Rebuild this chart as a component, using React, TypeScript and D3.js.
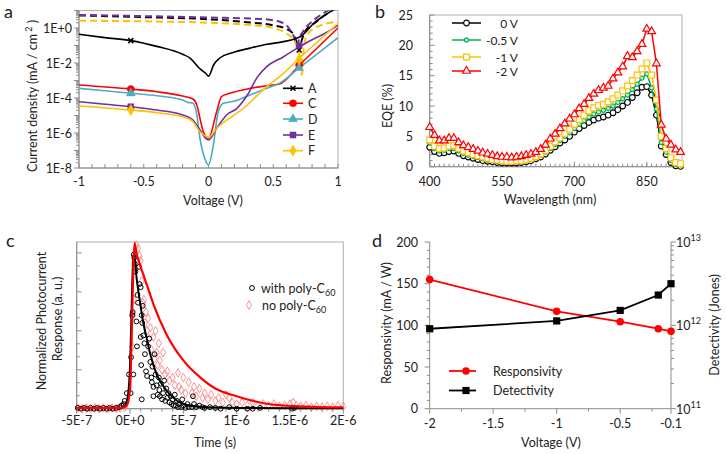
import React from "react";
import * as d3 from "d3";

const FONT = "Lato, 'Open Sans', sans-serif";
const AXIS = "#8c8c8c";
const FRAME = "#b0b0b0";
const FS = 12;

// ---------- panel a : J-V curves, values are log10(J in mA/cm2)
const aNames = ["A", "C", "D", "E", "F"];
const aColors = ["#000000", "#ff0000", "#4bacc6", "#7030a0", "#ffc000"];
const aV_A = [-1, -0.8, -0.6, -0.4, -0.2, -0.14, -0.07, -0.02, 0, 0.04, 0.09, 0.19, 0.32, 0.45, 0.58, 0.68, 0.72, 0.76, 0.8, 0.9, 1.0];
const aL_A = [-0.36, -0.55, -0.72, -1.05, -1.5, -1.73, -2.3, -2.6, -2.75, -2.1, -1.7, -1.4, -1.15, -0.93, -0.78, -0.59, -0.45, -0.15, 0.17, 0.74, 1.2];
const aV_C = [-1, -0.6, -0.4, -0.2, -0.12, -0.09, -0.066, -0.04, 0, 0.063, 0.1, 0.165, 0.32, 0.47, 0.55, 0.7, 0.835, 1.0];
const aL_C = [-3.26, -3.49, -3.64, -3.89, -4.06, -4.4, -5.15, -5.93, -6.3, -4.78, -3.92, -3.73, -3.45, -3.28, -3.2, -2.13, -1.17, 0.0];
const aV_D = [-1, -0.6, -0.4, -0.2, -0.16, -0.12, -0.09, -0.066, -0.03, 0, 0.037, 0.075, 0.115, 0.19, 0.32, 0.45, 0.55, 0.7, 0.85, 1.0];
const aL_D = [-3.45, -3.73, -3.87, -4.11, -4.25, -4.3, -4.97, -6.3, -7.43, -7.83, -6.7, -4.78, -4.3, -4.2, -3.83, -3.45, -3.15, -2.28, -1.42, -0.55];
const aV_E = [-1, -0.6, -0.4, -0.2, -0.12, -0.066, -0.015, 0, 0.063, 0.14, 0.22, 0.3, 0.38, 0.45, 0.58, 0.67, 0.75, 0.9, 1.0];
const aL_E = [-4.21, -4.5, -4.69, -4.97, -5.26, -5.83, -6.35, -6.4, -5.73, -4.97, -4.59, -3.83, -2.78, -2.21, -1.64, -1.22, -0.87, -0.3, 0.15];
const aV_F = [-1, -0.6, -0.4, -0.2, -0.12, -0.066, -0.015, 0, 0.063, 0.14, 0.22, 0.3, 0.38, 0.45, 0.58, 0.7, 0.8, 0.9, 1.0];
const aL_F = [-4.44, -4.69, -4.84, -5.07, -5.35, -5.93, -6.2, -6.25, -5.73, -5.26, -4.87, -4.4, -3.83, -3.35, -2.59, -1.73, -1.07, -0.4, 0.27];
// illuminated (dashed) curves
const aVd_A = [-1, -0.5, 0, 0.3, 0.5, 0.6, 0.65, 0.68, 0.7, 0.72, 0.75, 0.8, 0.9, 1.0];
const aLd_A = [0.72, 0.62, 0.5, 0.33, 0.15, -0.05, -0.3, -0.8, -1.26, -0.7, -0.15, 0.17, 0.74, 1.2];
const aVd_E = [-1, -0.5, 0, 0.4, 0.55, 0.62, 0.66, 0.685, 0.7, 0.73, 0.83, 0.91, 1.0];
const aLd_E = [0.75, 0.68, 0.6, 0.52, 0.36, 0.0, -0.5, -1.0, -0.6, -0.2, 0.55, 0.95, 1.3];
const aVd_F = [-1, -0.5, 0, 0.3, 0.5, 0.6, 0.66, 0.69, 0.71, 0.72, 0.735, 0.76, 0.85, 1.0];
const aLd_F = [0.42, 0.38, 0.3, 0.18, 0.0, -0.3, -0.7, -1.2, -1.9, -2.69, -1.2, -0.4, 0.1, 0.36];
const aMarkV = [-0.6, 0.7];
const aMarkL = [[-0.72, -1.26], [-3.49, -2.13], [-3.73, -2.28], [-4.5, -1.0], [-4.69, -1.8]];
const aXTicks = [-1, -0.5, 0, 0.5, 1];
const aXLabels = ["-1", "-0.5", "0", "0.5", "1"];
const aYTicks = [-8, -6, -4, -2, 0];
const aYLabels = ["1E-8", "1E-6", "1E-4", "1E-2", "1E+0"];

// ---------- panel b : EQE spectra
const bWave = [400, 410, 420, 430, 440, 450, 460, 470, 480, 490, 500, 510, 520, 530, 540, 550, 560, 570, 580, 590, 600, 610, 620, 630, 640, 650, 660, 670, 680, 690, 700, 710, 720, 730, 740, 750, 760, 770, 780, 790, 800, 810, 820, 830, 840, 850, 860, 870, 880, 890, 900, 910, 920];
const bEqe0 = [3.2, 2.5, 2.2, 2.3, 2.5, 2.6, 2.2, 1.8, 1.6, 1.4, 1.2, 1.0, 0.9, 0.8, 0.7, 0.6, 0.6, 0.6, 0.6, 0.7, 0.8, 1.0, 1.3, 1.6, 2.1, 2.7, 3.3, 3.9, 4.4, 5.0, 5.7, 6.3, 6.8, 7.3, 7.7, 8.0, 8.2, 8.5, 8.9, 9.4, 10.0, 10.6, 11.4, 12.2, 13.1, 13.2, 11.8, 8.5, 3.4, 2.0, 0.7, 0.15, 0.05];
const bEqe05 = [3.9, 3.0, 2.6, 2.7, 3.0, 3.0, 2.6, 2.2, 1.9, 1.7, 1.5, 1.3, 1.1, 1.0, 0.9, 0.8, 0.8, 0.8, 0.8, 0.9, 1.0, 1.2, 1.5, 1.9, 2.4, 3.0, 3.7, 4.3, 5.0, 5.6, 6.3, 7.0, 7.6, 8.2, 8.7, 9.0, 9.3, 9.6, 10.0, 10.6, 11.2, 11.8, 12.7, 13.6, 14.6, 15.3, 13.0, 9.5, 4.0, 2.4, 1.0, 0.4, 0.3];
const bEqe1 = [4.4, 3.4, 3.0, 3.1, 3.4, 3.5, 3.0, 2.6, 2.3, 2.0, 1.8, 1.6, 1.4, 1.2, 1.1, 1.0, 0.9, 0.9, 1.0, 1.0, 1.2, 1.4, 1.7, 2.1, 2.7, 3.4, 4.1, 4.8, 5.5, 6.2, 7.0, 7.8, 8.5, 9.2, 9.7, 10.1, 10.3, 10.7, 11.2, 11.8, 12.5, 13.3, 14.2, 15.1, 16.1, 17.1, 15.1, 11.0, 5.0, 3.0, 1.5, 0.7, 0.5];
const bEqe2 = [6.5, 5.2, 4.3, 4.3, 4.7, 4.7, 4.0, 3.5, 3.2, 2.9, 2.6, 2.3, 2.1, 1.9, 1.7, 1.6, 1.6, 1.5, 1.6, 1.7, 1.9, 2.1, 2.4, 2.9, 3.6, 4.6, 5.4, 6.3, 7.1, 7.9, 8.6, 9.6, 10.3, 11.3, 12.0, 12.6, 13.0, 13.3, 14.5, 15.5, 16.5, 18.2, 18.0, 19.0, 20.2, 22.7, 22.3, 17.0, 6.9, 4.6, 3.6, 2.8, 2.4];
const bNames = ["0 V", "-0.5 V", "-1 V", "-2 V"];
const bXTicks = [400, 550, 700, 850];
const bYTicks = [0, 5, 10, 15, 20, 25];

// ---------- panel c : transient photocurrent (time in units of 1e-7 s)
const cWithT = [-4.9, -4.6, -4.3, -4.0, -3.7, -3.4, -3.1, -2.8, -2.5, -2.2, -1.9, -1.6, -1.3, -1.0, -0.8, -0.6, -0.5, -0.3, -0.1, 0.06, 0.1, 0.2, 0.25, 0.31, 0.35, 0.4, 0.45, 0.5, 0.6, 0.65, 0.7, 0.75, 0.85, 0.9, 1.0, 1.0, 1.05, 1.09, 1.1, 1.15, 1.2, 1.25, 1.35, 1.4, 1.5, 1.6, 1.7, 1.8, 1.9, 2.0, 2.05, 2.1, 2.19, 2.2, 2.3, 2.4, 2.5, 2.6, 2.7, 2.75, 2.8, 2.9, 3.0, 3.1, 3.2, 3.3, 3.4, 3.5, 3.6, 3.7, 3.8, 3.9, 4.0, 4.1, 4.2, 4.3, 4.4, 4.5, 4.6, 4.8, 4.9, 5.0, 5.2, 5.4, 5.5, 5.8, 5.9, 6.0, 6.2, 6.5, 6.8, 7.0, 7.5, 8.0, 8.5, 9.3, 10.0, 11.0, 11.5, 12.2, 15.2, 15.4];
const cWithV = [0.005, 0.0, 0.005, 0.0, 0.005, 0.0, 0.005, 0.0, 0.005, 0.0, 0.005, 0.0, 0.005, 0.01, 0.02, 0.03, 0.05, 0.1, 0.22, 0.1, 0.33, 0.6, 0.62, 0.22, 0.99, 0.97, 0.93, 0.88, 0.56, 0.4, 0.73, 0.68, 0.91, 0.8, 0.78, 0.46, 0.28, 0.6, 0.06, 0.55, 0.66, 0.47, 0.42, 0.35, 0.24, 0.21, 0.4, 0.45, 0.3, 0.2, 0.17, 0.27, 0.08, 0.14, 0.35, 0.22, 0.15, 0.09, 0.2, 0.12, 0.08, 0.16, 0.06, 0.1, 0.18, 0.05, 0.13, 0.07, 0.1, 0.04, 0.08, 0.03, 0.06, 0.02, 0.09, 0.02, 0.05, 0.01, 0.03, 0.01, 0.06, 0.02, 0.005, 0.03, 0.01, 0.01, 0.08, 0.03, 0.01, 0.02, 0.01, 0.005, 0.01, 0.005, 0.0, 0.01, 0.0, 0.0, 0.0, 0.005, 0.0, 0.005];
const cNoT = [-4.9, -4.5, -4.1, -3.7, -3.3, -2.9, -2.5, -2.1, -1.7, -1.3, -0.9, -0.5, 0.2, 0.3, 0.35, 0.5, 0.6, 0.75, 0.9, 1.0, 1.1, 1.2, 1.3, 1.4, 1.5, 1.6, 1.7, 1.8, 1.9, 2.0, 2.2, 2.3, 2.4, 2.5, 2.6, 2.7, 2.8, 3.0, 3.1, 3.3, 3.5, 3.7, 4.0, 4.2, 4.5, 4.6, 4.8, 5.0, 5.2, 5.5, 5.8, 6.0, 6.2, 6.5, 6.8, 7.0, 7.3, 7.6, 8.0, 8.3, 8.7, 9.0, 9.3, 9.6, 10.0, 10.5, 11.0, 11.5, 12.0, 12.5, 13.0, 13.5, 14.0, 14.5, 15.0, 15.3, 15.6, 16.0, 16.5, 17.0, 17.5, 18.0, 18.5, 19.0, 19.5, 20.0];
const cNoV = [0.005, 0.0, 0.005, 0.0, 0.005, 0.0, 0.005, 0.0, 0.005, 0.0, 0.005, 0.01, 0.4, 0.6, 0.7, 0.9, 1.05, 1.03, 0.98, 0.95, 0.82, 0.68, 0.7, 0.55, 0.62, 0.5, 0.58, 0.45, 0.52, 0.38, 0.46, 0.32, 0.5, 0.36, 0.28, 0.42, 0.31, 0.25, 0.36, 0.22, 0.24, 0.18, 0.2, 0.15, 0.23, 0.14, 0.12, 0.2, 0.1, 0.17, 0.1, 0.14, 0.08, 0.13, 0.07, 0.1, 0.06, 0.09, 0.05, 0.07, 0.04, 0.09, 0.07, 0.04, 0.03, 0.04, 0.02, 0.04, 0.02, 0.03, 0.02, 0.03, 0.015, 0.02, 0.03, 0.04, 0.02, 0.015, 0.02, 0.01, 0.015, 0.01, 0.015, 0.01, 0.02, 0.015];
const cWithFitT = [-5, -1, -0.6, -0.4, -0.2, 0, 0.1, 0.2, 0.3, 0.38, 0.6, 0.9, 1.25, 1.6, 1.9, 2.5, 3.4, 4.7, 6.5, 10, 15, 20];
const cWithFitV = [0.005, 0.005, 0.01, 0.03, 0.08, 0.27, 0.5, 0.78, 0.96, 1.0, 0.85, 0.7, 0.55, 0.44, 0.35, 0.22, 0.12, 0.04, 0.012, 0.005, 0.003, 0.003];
const cNoFitT = [-5, -1, -0.6, -0.3, 0, 0.15, 0.3, 0.42, 0.6, 0.9, 1.25, 1.6, 2.2, 3.4, 5, 6.6, 8, 9.7, 12.8, 15.9, 20];
const cNoFitV = [0.005, 0.005, 0.008, 0.02, 0.12, 0.45, 0.88, 1.064, 1.0, 0.93, 0.86, 0.79, 0.67, 0.48, 0.31, 0.2, 0.13, 0.086, 0.032, 0.015, 0.008];
const cXTicks = [-5, 0, 5, 10, 15, 20];
const cXLabels = ["-5E-7", "0E+0", "5E-7", "1E-6", "1.5E-6", "2E-6"];

// ---------- panel d : responsivity and detectivity
const dVolt = [-2, -1, -0.5, -0.2, -0.1];
const dResp = [155, 116.8, 104.4, 96, 92.8];
const dDet = [9.1e11, 1.13e12, 1.51e12, 2.31e12, 3.16e12];
const dXTicks = [-2, -1.5, -1, -0.5, -0.1];
const dXMinor = [-1.75, -1.25, -0.75, -0.25];
const dYTicks = [0, 50, 100, 150, 200];
const dRTicks = [11, 12, 13];

const txt = { fontFamily: FONT, fill: "#222" } as const;

function PanelA() {
  const x = d3.scaleLinear().domain([-1, 1]).range([79, 338]);
  const y = d3.scaleLinear().domain([-8, 1]).range([168, 10.5]);
  const line = d3.line<number[]>().x(d => x(d[0])).y(d => y(d[1])).curve(d3.curveMonotoneX);
  const solids = [[aV_A, aL_A], [aV_C, aL_C], [aV_D, aL_D], [aV_E, aL_E], [aV_F, aL_F]];
  const dashed: [number[], number[], string][] = [[aVd_A, aLd_A, aColors[0]], [aVd_E, aLd_E, aColors[3]], [aVd_F, aLd_F, aColors[4]]];
  const symTypes = [d3.symbolTimes || d3.symbolCross, d3.symbolCircle, d3.symbolTriangle, d3.symbolSquare, d3.symbolDiamond];
  const symSizes = [18, 40, 36, 36, 36];
  const minorY: number[] = [];
  for (let e = -8; e < 1; e++) for (let k = 2; k < 10; k++) minorY.push(e + Math.log10(k));
  const minorX = d3.range(-1, 1.001, 0.1);
  const [x0, x1] = x.range();
  const [yb, yt] = y.range();
  const sym = (i: number) => d3.symbol().type(symTypes[i]).size(symSizes[i])()!;
  return (
    <g>
      <defs>
        <clipPath id="clipA"><rect x={x0} y={yt} width={x1 - x0} height={yb - yt} /></clipPath>
      </defs>
      <rect x={x0} y={yt} width={x1 - x0} height={yb - yt} fill="none" stroke={FRAME} />
      {minorY.map((v, i) => <line key={"my" + i} x1={x0 - 3} x2={x0} y1={y(v)} y2={y(v)} stroke={AXIS} />)}
      {d3.range(-8, 2).map(v => <line key={"My" + v} x1={x0 - 5} x2={x0} y1={y(v)} y2={y(v)} stroke={AXIS} />)}
      {minorX.map((v, i) => <line key={"mx" + i} x1={x(v)} x2={x(v)} y1={yb} y2={yb - 4} stroke={AXIS} />)}
      <line x1={x0} x2={x0} y1={yt} y2={yb} stroke={AXIS} />
      <line x1={x0} x2={x1} y1={yb} y2={yb} stroke={AXIS} />
      <g clipPath="url(#clipA)">
        {dashed.map((d, i) => (
          <path key={"d" + i} d={line(d[0].map((v, j) => [v, d[1][j]]))!} fill="none" stroke={d[2]} strokeWidth={2} strokeDasharray="7,4" />
        ))}
        {solids.map((d, i) => (
          <path key={"s" + i} d={line(d[0].map((v, j) => [v, d[1][j]]))!} fill="none" stroke={aColors[i]} strokeWidth={1.6} />
        ))}
        {aMarkL.map((ls, i) => ls.map((l, j) => (
          <path key={"m" + i + j} d={sym(i)} transform={`translate(${x(aMarkV[j])},${y(l)})`} fill={aColors[i]} stroke={aColors[i]} strokeWidth={i === 0 ? 1.5 : 0.5} />
        )))}
      </g>
      {aXTicks.map((v, i) => <text key={"xl" + i} {...txt} x={x(v)} y={186} fontSize={FS + 0.5} textAnchor="middle">{aXLabels[i]}</text>)}
      {aYTicks.map((v, i) => <text key={"yl" + i} {...txt} x={72} y={y(v) + 4.5} fontSize={FS + 0.5} textAnchor="end">{aYLabels[i]}</text>)}
      {aNames.map((n, i) => {
        const ly = [88.3, 103.3, 119, 135, 150.7][i];
        return (
          <g key={"lg" + n}>
            <line x1={283} x2={303} y1={ly} y2={ly} stroke={aColors[i]} strokeWidth={1.6} />
            <path d={sym(i)} transform={`translate(293,${ly})`} fill={aColors[i]} stroke={aColors[i]} strokeWidth={i === 0 ? 1.5 : 0.5} />
            <text {...txt} x={308} y={ly + 4.5} fontSize={FS + 0.5}>{n}</text>
          </g>
        );
      })}
      <text {...txt} x={213} y={204.5} fontSize={FS + 0.5} textAnchor="middle">Voltage (V)</text>
      <text {...txt} fontSize={FS + 0.5} textAnchor="middle" transform="translate(37,96) rotate(-90)">
        Current density (mA / cm<tspan dy={-5} fontSize={9}> 2</tspan><tspan dy={5}> )</tspan>
      </text>
      <text {...txt} x={4} y={18} fontSize={18}>a</text>
    </g>
  );
}

function PanelB() {
  const x = d3.scaleLinear().domain([400, 923]).range([429.7, 682]);
  const y = d3.scaleLinear().domain([0, 25]).range([166.7, 15]);
  const [x0, x1] = x.range();
  const [yb, yt] = y.range();
  const line = d3.line<number>().x((_, i) => x(bWave[i])).y(d => y(d));
  const series = [bEqe0, bEqe05, bEqe1, bEqe2];
  const colors = ["#000000", "#00b050", "#ffc000", "#ff0000"];
  const syms = [
    d3.symbol().type(d3.symbolCircle).size(26)()!,
    d3.symbol().type(d3.symbolCircle).size(14)()!,
    d3.symbol().type(d3.symbolSquare).size(34)()!,
    d3.symbol().type(d3.symbolTriangle).size(26)()!,
  ];
  const fills = ["#fff", "#c8efd5", "#fff", "#fff"];
  const legY = [23, 40, 57, 71];
  return (
    <g>
      <rect x={x0} y={yt} width={x1 - x0} height={yb - yt} fill="none" stroke={FRAME} />
      {d3.range(410, 921, 10).map(v => <line key={"mx" + v} x1={x(v)} x2={x(v)} y1={yb} y2={yb - 3} stroke={AXIS} />)}
      {bXTicks.map(v => <line key={"Mx" + v} x1={x(v)} x2={x(v)} y1={yb} y2={yb - 5} stroke={AXIS} />)}
      {d3.range(0, 25.01, 1).map(v => <line key={"my" + v} x1={x0} x2={x0 + (v % 5 === 0 ? 5 : 3)} y1={y(v)} y2={y(v)} stroke={AXIS} />)}
      <line x1={x0} x2={x0} y1={yt} y2={yb} stroke={AXIS} />
      <line x1={x0} x2={x1} y1={yb} y2={yb} stroke={AXIS} />
      {series.map((s, i) => (
        <g key={"s" + i}>
          <path d={line(s)!} fill="none" stroke={colors[i]} strokeWidth={1.5} />
          {s.map((v, j) => (
            <path key={j} d={syms[i]} transform={`translate(${x(bWave[j])},${y(v)})`} fill={fills[i]} stroke={colors[i]} strokeWidth={1.2} />
          ))}
        </g>
      ))}
      {bNames.map((n, i) => (
        <g key={"lg" + i}>
          <line x1={452} x2={481} y1={legY[i]} y2={legY[i]} stroke={colors[i]} strokeWidth={1.5} />
          <path d={syms[i]} transform={`translate(466.5,${legY[i]})`} fill={fills[i]} stroke={colors[i]} strokeWidth={1.2} />
          <text {...txt} x={518} y={legY[i] + 4.5} fontSize={FS} textAnchor="end">{n}</text>
        </g>
      ))}
      {bXTicks.map(v => <text key={"xl" + v} {...txt} x={x(v)} y={186} fontSize={FS + 0.5} textAnchor="middle">{v}</text>)}
      {bYTicks.map(v => <text key={"yl" + v} {...txt} x={413} y={y(v) + 4.5} fontSize={FS + 0.5} textAnchor="end">{v}</text>)}
      <text {...txt} x={550} y={204} fontSize={FS + 0.5} textAnchor="middle">Wavelength (nm)</text>
      <text {...txt} fontSize={FS + 0.5} textAnchor="middle" transform="translate(392,106) rotate(-90)">EQE (%)</text>
      <text {...txt} x={375} y={18} fontSize={18}>b</text>
    </g>
  );
}

function PanelC() {
  const x = d3.scaleLinear().domain([-5, 20]).range([76.7, 343.3]);
  const y = d3.scaleLinear().domain([0, 1.07]).range([408.7, 242]);
  const [x0, x1] = x.range();
  const [yb, yt] = y.range();
  const line = d3.line<number[]>().x(d => x(d[0])).y(d => y(d[1])).curve(d3.curveMonotoneX);
  const diamond = d3.symbol().type(d3.symbolDiamond).size(22)()!;
  return (
    <g>
      <rect x={x0} y={yt} width={x1 - x0} height={yb - yt} fill="none" stroke={FRAME} />
      {d3.range(-5, 20.01, 1).map(v => <line key={"mx" + v} x1={x(v)} x2={x(v)} y1={yb} y2={yb + (v % 5 === 0 ? 5 : 3)} stroke={AXIS} />)}
      {d3.range(0, 1.001, 0.25 / 3).map((v, i) => <line key={"my" + i} x1={x0} x2={x0 + (i % 3 === 0 ? 5 : 3)} y1={y(v)} y2={y(v)} stroke={AXIS} />)}
      <line x1={x0} x2={x0} y1={yt} y2={yb} stroke={AXIS} />
      <line x1={x0} x2={x1} y1={yb} y2={yb} stroke={AXIS} />
      {cNoT.map((t, i) => <path key={"n" + i} d={diamond} transform={`translate(${x(t)},${y(cNoV[i])})`} fill="none" stroke="#f58a8a" strokeWidth={0.9} />)}
      {cWithT.map((t, i) => <circle key={"w" + i} cx={x(t)} cy={y(cWithV[i])} r={2.4} fill="none" stroke="#000" strokeWidth={1} />)}
      <path d={line(cWithFitT.map((t, i) => [t, cWithFitV[i]]))!} fill="none" stroke="#000" strokeWidth={2} />
      <path d={line(cNoFitT.map((t, i) => [t, cNoFitV[i]]))!} fill="none" stroke="#ff0000" strokeWidth={2.2} />
      {cXTicks.map((v, i) => <text key={"xl" + i} {...txt} x={x(v)} y={424.5} fontSize={FS + 0.5} textAnchor="middle">{cXLabels[i]}</text>)}
      <circle cx={252} cy={288} r={2.4} fill="none" stroke="#000" />
      <text {...txt} x={261} y={292.5} fontSize={FS + 0.5}>with poly-C<tspan dy={3} fontSize={9}>60</tspan></text>
      <path d={diamond} transform="translate(249,305)" fill="none" stroke="#f58a8a" strokeWidth={0.9} />
      <text {...txt} x={262} y={310} fontSize={FS + 0.5}>no poly-C<tspan dy={3} fontSize={9}>60</tspan></text>
      <text {...txt} x={215} y={446.5} fontSize={FS + 0.5} textAnchor="middle">Time (s)</text>
      <text {...txt} fontSize={FS + 0.5} textAnchor="middle" transform="translate(46,321) rotate(-90)">Normalized Photocurrent</text>
      <text {...txt} fontSize={FS + 0.5} textAnchor="middle" transform="translate(62,319) rotate(-90)">Response (a. u.)</text>
      <text {...txt} x={6} y={247} fontSize={18}>c</text>
    </g>
  );
}

function PanelD() {
  const x = d3.scaleLinear().domain([-2, -0.1]).range([429.7, 671]);
  const yl = d3.scaleLinear().domain([0, 200]).range([408.7, 242]);
  const yr = d3.scaleLog().domain([1e11, 1e13]).range([408.7, 242]);
  const [x0, x1] = x.range();
  const [yb, yt] = yl.range();
  const respLine = d3.line<number>().x((_, i) => x(dVolt[i])).y(d => yl(d));
  const detLine = d3.line<number>().x((_, i) => x(dVolt[i])).y(d => yr(d));
  const sq = d3.symbol().type(d3.symbolSquare).size(52)()!;
  const minorR: number[] = [];
  for (let e = 11; e < 13; e++) for (let k = 2; k < 10; k++) minorR.push(k * Math.pow(10, e));
  return (
    <g>
      <line x1={x0} x2={x0} y1={yt} y2={yb} stroke={AXIS} />
      <line x1={x1} x2={x1} y1={yt} y2={yb} stroke={AXIS} />
      <line x1={x0} x2={x1} y1={yb} y2={yb} stroke={AXIS} />
      {d3.range(0, 200.1, 10).map(v => <line key={"ml" + v} x1={x0 - (v % 50 === 0 ? 5 : 3)} x2={x0} y1={yl(v)} y2={yl(v)} stroke={AXIS} />)}
      {minorR.map((v, i) => <line key={"mr" + i} x1={x1} x2={x1 + 3} y1={yr(v)} y2={yr(v)} stroke={AXIS} />)}
      {dRTicks.map(e => <line key={"Mr" + e} x1={x1} x2={x1 + 5} y1={yr(Math.pow(10, e))} y2={yr(Math.pow(10, e))} stroke={AXIS} />)}
      {dXTicks.map(v => <line key={"Mx" + v} x1={x(v)} x2={x(v)} y1={yb} y2={yb + 5} stroke={AXIS} />)}
      {dXMinor.map(v => <line key={"mx" + v} x1={x(v)} x2={x(v)} y1={yb} y2={yb + 3} stroke={AXIS} />)}
      <path d={respLine(dResp)!} fill="none" stroke="#ff0000" strokeWidth={1.8} />
      <path d={detLine(dDet)!} fill="none" stroke="#000" strokeWidth={1.8} />
      {dResp.map((v, i) => <circle key={"r" + i} cx={x(dVolt[i])} cy={yl(v)} r={3.8} fill="#ff0000" />)}
      {dDet.map((v, i) => <path key={"d" + i} d={sq} transform={`translate(${x(dVolt[i])},${yr(v)})`} fill="#000" />)}
      {dXTicks.map(v => <text key={"xl" + v} {...txt} x={x(v)} y={428} fontSize={FS + 0.5} textAnchor="middle">{v}</text>)}
      {dYTicks.map(v => <text key={"yl" + v} {...txt} x={418} y={yl(v) + 4.5} fontSize={FS + 0.5} textAnchor="end">{v}</text>)}
      {dRTicks.map(e => (
        <text key={"rl" + e} {...txt} x={676} y={yr(Math.pow(10, e)) + 5} fontSize={FS + 0.5}>10<tspan dy={-6} fontSize={9}>{e}</tspan></text>
      ))}
      <line x1={449} x2={476} y1={371} y2={371} stroke="#ff0000" strokeWidth={1.8} />
      <circle cx={466} cy={371} r={3.8} fill="#ff0000" />
      <text {...txt} x={493} y={375.5} fontSize={FS + 0.5}>Responsivity</text>
      <line x1={449} x2={476} y1={390.5} y2={390.5} stroke="#000" strokeWidth={1.8} />
      <path d={sq} transform="translate(466,390.5)" fill="#000" />
      <text {...txt} x={493} y={395} fontSize={FS + 0.5}>Detectivity</text>
      <text {...txt} x={551} y={446.5} fontSize={FS + 0.5} textAnchor="middle">Voltage (V)</text>
      <text {...txt} fontSize={FS + 0.5} textAnchor="middle" transform="translate(391,323) rotate(-90)">Responsivity (mA / W)</text>
      <text {...txt} fontSize={FS + 0.5} textAnchor="middle" transform="translate(719,325) rotate(-90)">Detectivity (Jones)</text>
      <text {...txt} x={372} y={247} fontSize={18}>d</text>
    </g>
  );
}

export default function App() {
  return (
    <svg width={726} height={454} style={{ position: "absolute", left: 0, top: 0, background: "#fff" }}>
      <PanelA />
      <PanelB />
      <PanelC />
      <PanelD />
    </svg>
  );
}
